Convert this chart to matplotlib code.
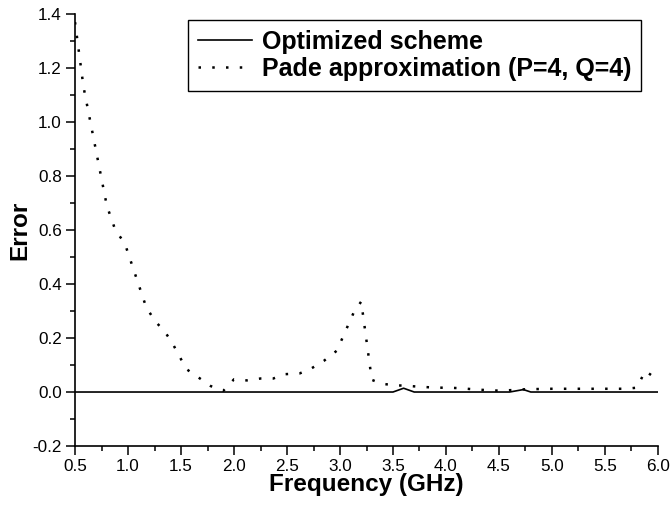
import matplotlib
matplotlib.use("Agg")
import matplotlib.pyplot as plt
from matplotlib.ticker import MultipleLocator, FormatStrFormatter

plt.rcParams['font.family'] = ['Liberation Sans', 'DejaVu Sans']

# Pade approximation (P=4, Q=4) error
pade_freq = [0.50, 0.58, 0.80, 0.88, 0.97, 1.17, 1.25, 1.35, 1.42, 1.55,
             1.65, 1.78, 1.90, 2.00, 2.12, 2.25, 2.37, 2.48, 2.62, 2.72,
             2.85, 2.97, 3.13, 3.20, 3.30, 3.40, 3.53, 3.66, 3.78, 3.90,
             4.02, 4.14, 4.26, 4.38, 4.50, 4.62, 4.74, 4.86, 5.00, 5.70,
             5.80, 5.88, 6.00]
pade_err = [1.37, 1.13, 0.69, 0.60, 0.55, 0.316, 0.265, 0.222, 0.18, 0.085,
            0.058, 0.022, 0.005, 0.047, 0.043, 0.050, 0.050, 0.066, 0.069, 0.085,
            0.116, 0.153, 0.295, 0.335, 0.045, 0.030, 0.025, 0.022, 0.019, 0.016,
            0.016, 0.014, 0.010, 0.007, 0.005, 0.007, 0.010, 0.011, 0.012, 0.012,
            0.016, 0.078, 0.045]

# optimized scheme error
opt_freq = [0.5, 3.5, 3.6, 3.7, 4.6, 4.73, 4.8, 6.0]
opt_err = [0.0, 0.0, 0.014, 0.0, 0.0, 0.009, 0.0, 0.0]

fig = plt.figure(figsize=(6.71, 5.05), dpi=100)
ax = fig.add_axes([0.1118, 0.1168, 0.8688, 0.8555])

ax.plot(opt_freq, opt_err, color='black', lw=1.2, label='Optimized scheme')
ax.plot(pade_freq, pade_err, color='black', lw=1.8, linestyle=(0, (1, 4.5)),
        label='Pade approximation (P=4, Q=4)')

ax.set_xlim(0.5, 6.0)
ax.set_ylim(-0.2, 1.4)
ax.spines['top'].set_visible(False)
ax.spines['right'].set_visible(False)
ax.spines['left'].set_linewidth(1.2)
ax.spines['bottom'].set_linewidth(1.2)

ax.xaxis.set_major_locator(MultipleLocator(0.5))
ax.xaxis.set_minor_locator(MultipleLocator(0.25))
ax.yaxis.set_major_locator(MultipleLocator(0.2))
ax.yaxis.set_minor_locator(MultipleLocator(0.1))
ax.xaxis.set_major_formatter(FormatStrFormatter('%.1f'))
ax.yaxis.set_major_formatter(FormatStrFormatter('%.1f'))
ax.tick_params(which='major', direction='out', length=6.5, width=1.1, labelsize=12.3)
ax.tick_params(which='minor', direction='out', length=3.6, width=1.1)
ax.tick_params(axis='x', pad=3)
ax.tick_params(axis='y', pad=3)

ax.set_xlabel('Frequency (GHz)', fontsize=17.5, fontweight='bold', labelpad=-1)
ax.set_ylabel('Error', fontsize=17.5, fontweight='bold', labelpad=1)

leg = ax.legend(loc='upper right', bbox_to_anchor=(0.971, 0.986), borderaxespad=0,
                prop={'weight': 'bold', 'size': 18}, handlelength=2.16,
                handletextpad=0.4, borderpad=0.4, labelspacing=0.12,
                fancybox=False, framealpha=1, edgecolor='black')
leg.get_frame().set_linewidth(1.0)

fig.savefig('out.png', dpi=100)
